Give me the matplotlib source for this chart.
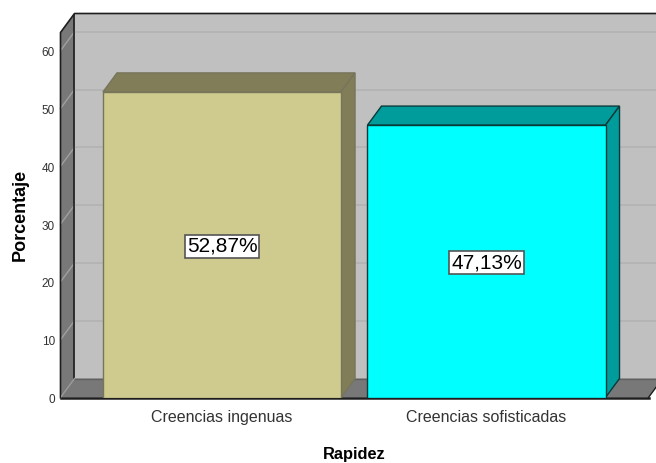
import matplotlib
matplotlib.use("Agg")
import matplotlib.pyplot as plt
from matplotlib.patches import Polygon
from matplotlib.transforms import ScaledTranslation

categories = ["Creencias ingenuas", "Creencias sofisticadas"]
values = [52.87, 47.13]
value_labels = ["52,87%", "47,13%"]
yticks = [0, 10, 20, 30, 40, 50, 60]
face_colors = ["#CFCB8E", "#00FFFF"]
side_colors = ["#807D58", "#009C9C"]
edge_colors = ["#77755A", "#0A3A3A"]

W, H = 656, 463
plt.rcParams["font.family"] = ["Liberation Sans", "DejaVu Sans"]
fig = plt.figure(figsize=(W / 100, H / 100), dpi=100)
# axes frame in pixels
L, R, B, T = 60.5, 656, 397.5, 13.5
ax = fig.add_axes([L / W, 1 - B / H, (R - L) / W, (B - T) / H])
py = 5.78         # pixels per y unit
px = 264.5        # pixels per category
x0 = 222          # pixel centre of first category
ax.set_xlim((L - x0) / px, (R - x0) / px)
ax.set_ylim(0, (B - T) / py)
dx = 14.0 / px
dy = 19.0 / py
xl = (L - x0) / px
xr = (648.5 - x0) / px
top = (B - T) / py
width = 0.9
wall = "#C0C0C0"
dark = "#787878"

# back wall, left wall, floor
ax.add_patch(Polygon([(xl + dx, dy), (xr + dx + 1, dy), (xr + dx + 1, top), (xl + dx, top)],
                     fc=wall, ec="none", zorder=1))
ax.add_patch(Polygon([(xl, 0), (xl + dx, dy), (xl + dx, top), (xl, top - dy)],
                     fc=dark, ec="none", zorder=1))
ax.add_patch(Polygon([(xl, 0), (xr, 0), (xr + dx, dy), (xl + dx, dy)],
                     fc=dark, ec="none", zorder=1))
# gridlines on the walls
for t in yticks[1:]:
    ax.plot([xl, xl + dx], [t, t + dy], color="#A0A0A0", lw=1, zorder=2, clip_on=False)
    ax.plot([xl + dx, xr + dx + 1], [t + dy, t + dy], color="#B2B2B2", lw=1.2, zorder=2)
# wall outlines
ax.plot([xl, xl, xl + dx, xr + dx + 1], [0, top - dy, top, top], color="#1E1E1E", lw=1.2, zorder=3, clip_on=False)
ax.plot([xl + dx, xl + dx], [dy, top], color="#1E1E1E", lw=1.2, zorder=3)
ax.plot([xl, xr], [0, 0], color="#1E1E1E", lw=1.8, zorder=3, clip_on=False)
ax.plot([xr, xr + dx], [0, dy], color="#1E1E1E", lw=1, zorder=3, clip_on=True)
ax.plot([xl + dx, xr + dx + 1], [dy, dy], color="#606060", lw=1, zorder=3)
ax.plot([xl, xl + dx], [0, dy], color="#9A9A9A", lw=1, zorder=3)

# bars
label_shift = ScaledTranslation(0, -1.5 / 100, fig.dpi_scale_trans)
for i, (v, fc, sc, ec) in enumerate(zip(values, face_colors, side_colors, edge_colors)):
    a, b = i - width / 2, i + width / 2
    ax.bar(i, v, width=width, color=fc, edgecolor=ec, linewidth=1, zorder=5)
    ax.add_patch(Polygon([(a, v), (a + dx, v + dy), (b + dx, v + dy), (b, v)],
                         fc=sc, ec=ec, lw=1, zorder=4))
    ax.add_patch(Polygon([(b, 0), (b + dx, dy), (b + dx, v + dy), (b, v)],
                         fc=sc, ec=ec, lw=1, zorder=4))
    ax.text(i, v / 2, value_labels[i], ha="center", va="center", fontsize=15, color="black", zorder=6,
            transform=ax.transData + label_shift,
            bbox=dict(boxstyle="square,pad=0.1", fc="white", ec="#555555", lw=1.2))

for s in ax.spines.values():
    s.set_visible(False)
ax.patch.set_visible(False)
ax.set_xticks(range(len(categories)), categories, fontsize=11.5, color="#333333")
ax.set_yticks(yticks, [str(t) for t in yticks], fontsize=8.5, color="#333333")
ax.tick_params(axis="x", length=0, pad=9)
ax.tick_params(axis="y", length=0, pad=4)
shift = ScaledTranslation(0, -1 / 100, fig.dpi_scale_trans)
for lab in ax.get_yticklabels():
    lab.set_transform(lab.get_transform() + shift)

fig.text(354.5 / W, 1 - 454 / H, "Rapidez", ha="center", va="center", fontsize=11.8, fontweight="bold")
fig.text(20 / W, 1 - 215 / H, "Porcentaje", ha="center", va="center", rotation=90, fontsize=13, fontweight="bold")
fig.savefig("out.png", dpi=100)
